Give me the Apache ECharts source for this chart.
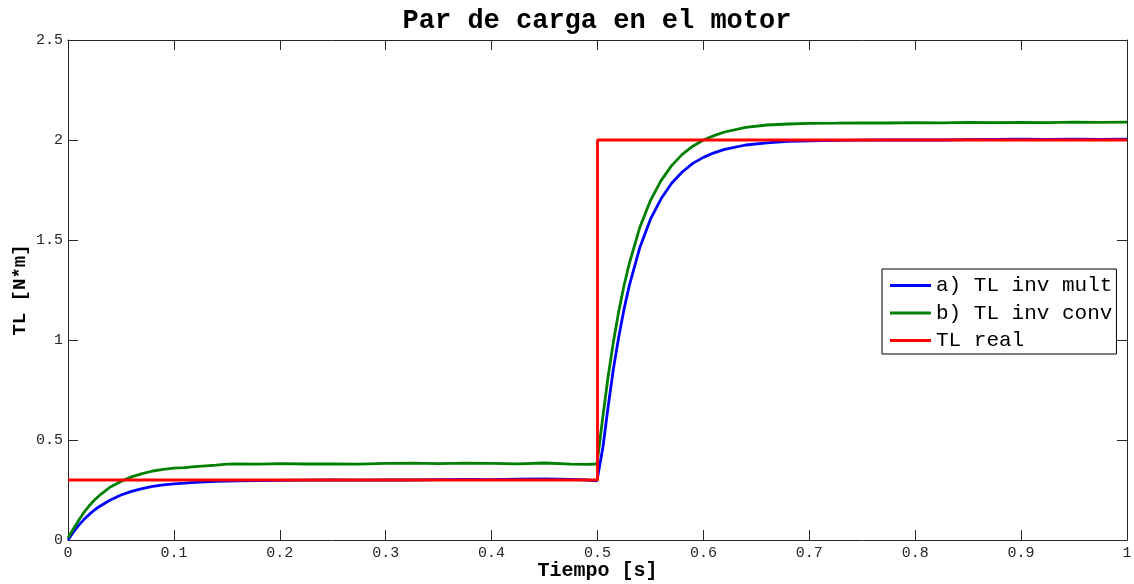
<!DOCTYPE html>
<html>
<head>
<meta charset="utf-8">
<title>Par de carga en el motor</title>
<script src="https://cdn.jsdelivr.net/npm/echarts@6/dist/echarts.min.js"></script>
<style>
  html, body { margin: 0; padding: 0; background: #fff; }
  #chart { width: 1134px; height: 584px; }
</style>
</head>
<body>
<div id="chart"></div>
<script>
// Sample instants [s]
const time = [
  0, 0.005, 0.01, 0.015, 0.02, 0.025, 0.03,
  0.04, 0.05, 0.06, 0.07, 0.08, 0.09, 0.1, 0.11, 0.12, 0.13, 0.14, 0.15, 0.16,
  0.18, 0.2,
  0.225, 0.25, 0.275, 0.3, 0.325, 0.35, 0.375, 0.4, 0.425, 0.45, 0.475,
  0.49, 0.4995,
  0.5, 0.505, 0.51, 0.515, 0.52, 0.525, 0.53,
  0.54, 0.55, 0.56, 0.57, 0.58, 0.59, 0.6, 0.61, 0.62,
  0.64, 0.66, 0.68, 0.7,
  0.725, 0.75, 0.775, 0.8, 0.825, 0.85, 0.875, 0.9, 0.925, 0.95, 0.975, 1.0
];

// a) load torque estimated by the multiplicative inverse [N*m]
const tlInvMult = [
  0.0, 0.039, 0.073, 0.102, 0.128, 0.150, 0.169,
  0.200, 0.225, 0.243, 0.257, 0.268, 0.276, 0.281, 0.284, 0.288, 0.291, 0.293, 0.295, 0.296,
  0.297, 0.298,
  0.299, 0.300, 0.299, 0.301, 0.300, 0.302, 0.303, 0.302, 0.304, 0.305, 0.303,
  0.300, 0.296,
  0.296, 0.460, 0.665, 0.855, 1.014, 1.153, 1.272,
  1.463, 1.604, 1.706, 1.784, 1.840, 1.883, 1.913, 1.936, 1.953,
  1.975, 1.986, 1.993, 1.996,
  1.998, 1.999, 2.000, 2.001, 2.000, 2.002, 2.003, 2.004, 2.003, 2.004, 2.003, 2.004
];

// b) load torque estimated by the conventional inverse [N*m]
const tlInvConv = [
  0.010, 0.055, 0.098, 0.138, 0.171, 0.200, 0.224,
  0.265, 0.293, 0.316, 0.332, 0.345, 0.353, 0.359, 0.362, 0.367, 0.371, 0.374, 0.379, 0.381,
  0.379, 0.382,
  0.380, 0.381, 0.379, 0.383, 0.384, 0.382, 0.384, 0.383, 0.381, 0.385, 0.379,
  0.378, 0.380,
  0.380, 0.614, 0.816, 0.990, 1.141, 1.271, 1.382,
  1.564, 1.697, 1.797, 1.872, 1.928, 1.969, 2.000, 2.022, 2.040,
  2.063, 2.075, 2.080, 2.083,
  2.084, 2.086, 2.085, 2.087, 2.086, 2.088, 2.087, 2.088, 2.087, 2.089, 2.088, 2.089
];

// Applied load torque (step at t = 0.5 s)
const realTime = [0, 0.5, 0.5, 1.0];
const tlReal = [0.3, 0.3, 2.0, 2.0];

const seriesNames = ['a) TL inv mult', 'b) TL inv conv', 'TL real'];
const seriesColors = ['#0000ff', '#008000', '#ff0000'];

const xTicks = ['0', '0.1', '0.2', '0.3', '0.4', '0.5', '0.6', '0.7', '0.8', '0.9', '1'];
const yTicks = ['0', '0.5', '1', '1.5', '2', '2.5'];

const mono = '"Liberation Mono", "Courier New", monospace';
const axisColor = '#262626';

function pairs(xs, ys) { return xs.map((x, i) => [x, ys[i]]); }

function fmtX(v) { return xTicks[Math.round(v * 10)]; }
function fmtY(v) { return yTicks[Math.round(v * 2)]; }

// Shared style for the four sides of the plot box (ticks pointing inward)
function boxAxis(extra) {
  return Object.assign({
    axisLine: { show: true, onZero: false, lineStyle: { color: axisColor, width: 1 } },
    axisTick: { show: true, inside: true, length: 10, lineStyle: { color: axisColor, width: 1 } },
    splitLine: { show: false }
  }, extra);
}

const chart = echarts.init(document.getElementById('chart'), null, { renderer: 'canvas' });

chart.setOption({
  animation: false,
  backgroundColor: '#ffffff',
  title: {
    text: 'Par de carga en el motor',
    left: 592, textAlign: 'center',
    top: 3,
    textStyle: { fontFamily: mono, fontWeight: 'bold', fontSize: 27, color: '#000' }
  },
  grid: { left: 68, right: 7, top: 40, bottom: 44, containLabel: false, outerBoundsMode: 'none' },
  legend: {
    orient: 'vertical',
    left: 882, top: 269,
    data: seriesNames,
    icon: 'rect',
    itemWidth: 41, itemHeight: 3, itemGap: 6.5,
    padding: [6, 4, 3, 8],
    backgroundColor: '#ffffff',
    borderColor: '#000000', borderWidth: 1,
    textStyle: { fontFamily: mono, fontSize: 21, color: '#000' }
  },
  xAxis: [
    boxAxis({
      type: 'value', position: 'bottom', min: 0, max: 1, interval: 0.1,
      name: 'Tiempo [s]', nameLocation: 'middle', nameGap: 21, nameMoveOverlap: false,
      nameTextStyle: { fontFamily: mono, fontWeight: 'bold', fontSize: 20, color: '#000' },
      axisLabel: { formatter: fmtX, margin: 6, fontFamily: mono, fontSize: 15, color: axisColor }
    }),
    boxAxis({
      type: 'value', position: 'top', min: 0, max: 1, interval: 0.1,
      axisLabel: { show: false }
    })
  ],
  yAxis: [
    boxAxis({
      type: 'value', position: 'left', min: 0, max: 2.5, interval: 0.5,
      name: 'TL [N*m]', nameLocation: 'middle', nameGap: 38, nameRotate: 90, nameMoveOverlap: false,
      nameTextStyle: { fontFamily: mono, fontWeight: 'bold', fontSize: 19, color: '#000' },
      axisLabel: { formatter: fmtY, margin: 5, fontFamily: mono, fontSize: 15, color: axisColor }
    }),
    boxAxis({
      type: 'value', position: 'right', min: 0, max: 2.5, interval: 0.5,
      axisLabel: { show: false }
    })
  ],
  series: [
    {
      name: seriesNames[0], type: 'line', symbol: 'none', xAxisIndex: 0, yAxisIndex: 0,
      data: pairs(time, tlInvMult),
      lineStyle: { color: seriesColors[0], width: 2.8 },
      itemStyle: { color: seriesColors[0] }, z: 2
    },
    {
      name: seriesNames[1], type: 'line', symbol: 'none', xAxisIndex: 0, yAxisIndex: 0,
      data: pairs(time, tlInvConv),
      lineStyle: { color: seriesColors[1], width: 2.8 },
      itemStyle: { color: seriesColors[1] }, z: 3
    },
    {
      name: seriesNames[2], type: 'line', symbol: 'none', xAxisIndex: 0, yAxisIndex: 0,
      data: pairs(realTime, tlReal),
      lineStyle: { color: seriesColors[2], width: 2.8 },
      itemStyle: { color: seriesColors[2] }, z: 4
    }
  ]
});
</script>
</body>
</html>
